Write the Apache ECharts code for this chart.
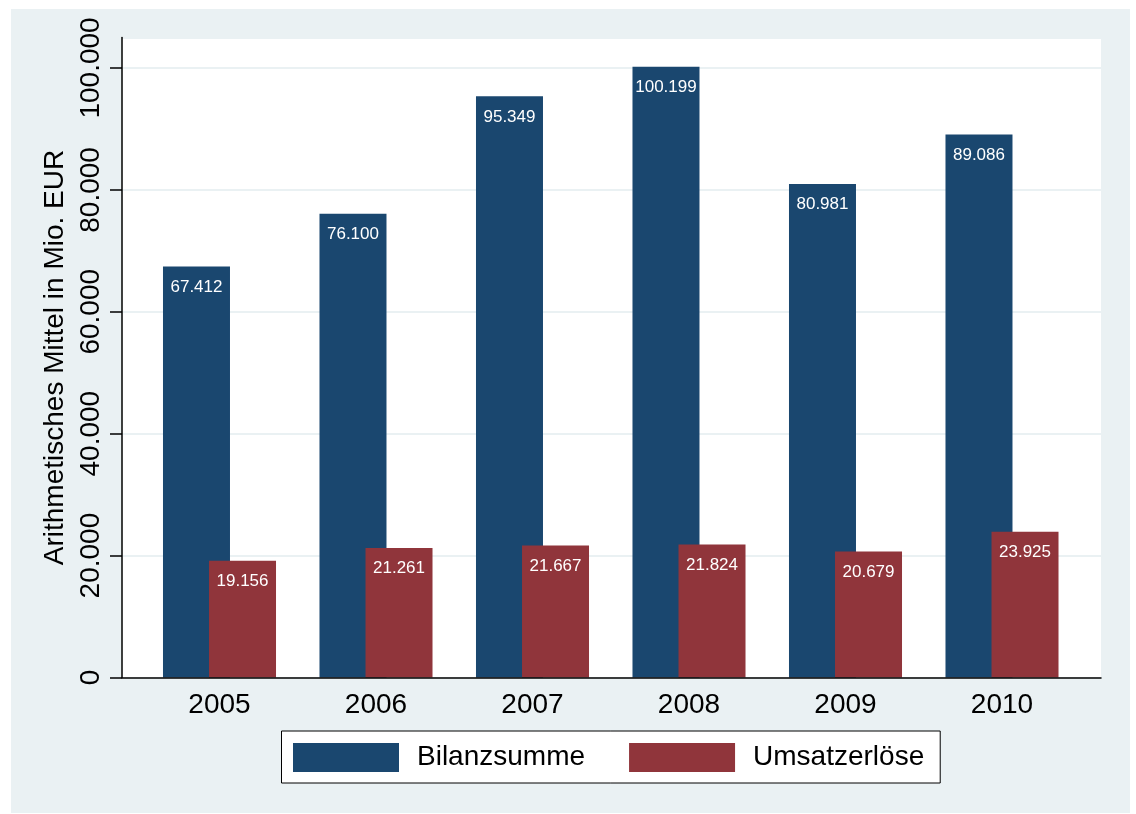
<!DOCTYPE html>
<html>
<head>
<meta charset="utf-8">
<script src="https://cdn.jsdelivr.net/npm/echarts@6/dist/echarts.min.js"></script>
<style>
  html, body { margin: 0; padding: 0; background: #ffffff; }
  #bg { position: absolute; left: 11px; top: 9px; width: 1119px; height: 804px; background: #EAF1F3; }
  #chart { position: absolute; left: 0; top: 0; width: 1136px; height: 814px; }
</style>
</head>
<body>
<div id="bg"></div>
<div id="chart"></div>
<script>
const categories = ['2005', '2006', '2007', '2008', '2009', '2010'];
const bilanzsumme = [67412, 76100, 95349, 100199, 80981, 89086];
const umsatzerloese = [19156, 21261, 21667, 21824, 20679, 23925];
const seriesNames = ['Bilanzsumme', 'Umsatzerlöse'];
const yTickValues = [0, 20000, 40000, 60000, 80000, 100000];
const yTickLabels = ['0', '20.000', '40.000', '60.000', '80.000', '100.000'];
const yTitle = 'Arithmetisches Mittel in Mio. EUR';

const FONT = '"Liberation Sans", Arial, sans-serif';
function fmtDot(v) {
  return String(Math.round(v)).replace(/\B(?=(\d{3})+(?!\d))/g, '.');
}

const chart = echarts.init(document.getElementById('chart'), null, { renderer: 'canvas' });
const option = {
  backgroundColor: 'transparent',
  animation: false,
  textStyle: { fontFamily: FONT },
  grid: [
    { left: 122, right: 35, top: 37.5, bottom: 136.5, show: true, backgroundColor: '#ffffff', borderWidth: 0, containLabel: false },
    { left: 141.25, width: 939, top: 37.5, bottom: 136.5, containLabel: false }
  ],
  xAxis: [
    { type: 'value', gridIndex: 0, min: 0, max: 1, z: 5,
      axisLine: { show: true, onZero: false, lineStyle: { color: '#000', width: 1.5 } },
      axisTick: { show: false }, axisLabel: { show: false }, splitLine: { show: false } },
    { type: 'category', gridIndex: 1, data: categories,
      axisLine: { show: false }, axisTick: { show: false },
      axisLabel: { show: true, color: '#000', fontSize: 28, fontFamily: FONT, margin: 14 },
      splitLine: { show: false } }
  ],
  yAxis: [
    { type: 'value', gridIndex: 0, min: 0, max: 105000, interval: 20000,
      name: yTitle, nameLocation: 'middle', nameGap: 48,
      nameTextStyle: { color: '#000', fontSize: 28, fontFamily: FONT },
      axisLine: { show: true, lineStyle: { color: '#000', width: 1.5 } },
      axisTick: { show: true, inside: false, length: 12, lineStyle: { color: '#000', width: 1.5 } },
      axisLabel: { show: true, rotate: 90, color: '#000', fontSize: 28, fontFamily: FONT, margin: 17,
        showMaxLabel: false,
        formatter: function (v) { const i = yTickValues.indexOf(v); return i >= 0 ? yTickLabels[i] : ''; } },
      splitLine: { show: true, lineStyle: { color: '#EAF1F3', width: 2 } } },
    { type: 'value', gridIndex: 1, min: 0, max: 105000, show: false, splitLine: { show: false } }
  ],
  legend: {
    show: true,
    left: 281.5, top: 731,
    orient: 'horizontal',
    data: seriesNames,
    itemWidth: 106, itemHeight: 29, itemGap: 44,
    padding: [12, 16, 11, 11.5],
    backgroundColor: '#ffffff',
    borderColor: '#000', borderWidth: 1,
    icon: 'rect',
    selectedMode: false,
    textStyle: { color: '#000', fontSize: 28, fontFamily: FONT, lineHeight: 29, padding: [0, 0, 0, 13] }
  },
  series: [
    { name: seriesNames[0], type: 'bar', xAxisIndex: 1, yAxisIndex: 1, data: bilanzsumme, z: 3,
      barWidth: 67, barGap: '-31.3%',
      itemStyle: { color: '#1A476F' },
      label: { show: true, position: 'insideTop', distance: 12, color: '#fff', fontSize: 17, fontFamily: FONT,
        formatter: function (p) { return fmtDot(p.value); } } },
    { name: seriesNames[1], type: 'bar', xAxisIndex: 1, yAxisIndex: 1, data: umsatzerloese, z: 3,
      barWidth: 67, barGap: '-31.3%',
      itemStyle: { color: '#90353B' },
      label: { show: true, position: 'insideTop', distance: 12, color: '#fff', fontSize: 17, fontFamily: FONT,
        formatter: function (p) { return fmtDot(p.value); } } }
  ]
};
chart.setOption(option);
</script>
</body>
</html>
